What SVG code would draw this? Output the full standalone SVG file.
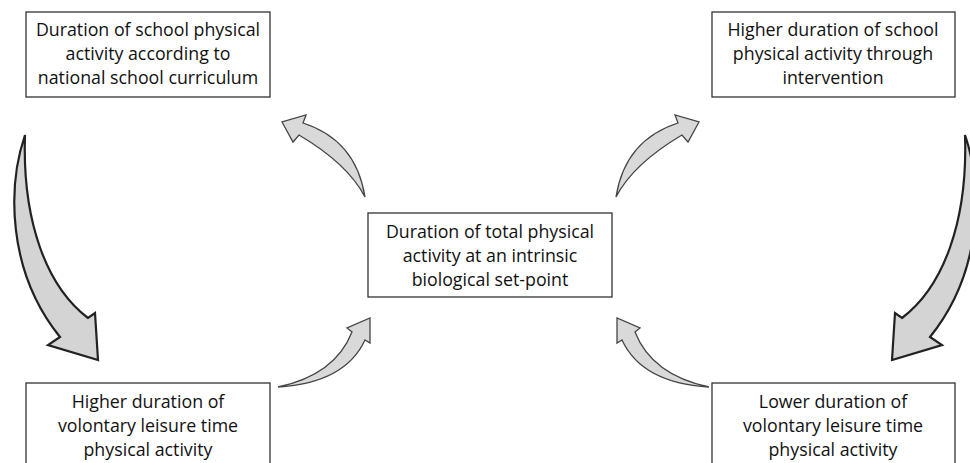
<svg xmlns="http://www.w3.org/2000/svg" width="970" height="463" viewBox="0 0 970 463">
<style>
.box{fill:#fff;stroke:#333;stroke-width:1.3}
.t{font-family:"Open Sans","Liberation Sans",sans-serif;font-size:17.8px;fill:#111;text-anchor:middle}
.big{fill:#d4d4d4;stroke:#222;stroke-width:2.2;stroke-linejoin:miter}
.small{fill:#d9d9d9;stroke:#444;stroke-width:1.3;stroke-linejoin:miter}
</style>
<defs>
<path id="bigArrow" d="M25,135 C8,185 6,270 60,337 L48,345 L98,360 L95,313 L88,318 C47,287 22,222 25,135 Z"/>
<path id="smallTop" d="M365,197 Q356,140 303,123 L306,115 L282,122 L293,142 L299,135 Q348,164 365,197 Z"/>
<path id="smallBottom" d="M278,387 Q335,375 352,332 L347,328 L370,318 L370,343 L365,340 Q345,383 278,387 Z"/>
</defs>
<rect width="970" height="463" fill="#fff"/>
<g id="connectors">
<use href="#bigArrow" class="big"/>
<use href="#bigArrow" class="big" transform="matrix(-1 0 0 1 990 0)"/>
<use href="#smallTop" class="small"/>
<use href="#smallTop" class="small" transform="matrix(-1 0 0 1 981 0)"/>
<use href="#smallBottom" class="small"/>
<use href="#smallBottom" class="small" transform="matrix(-1 0 0 1 987 0)"/>
</g>
<g id="node-school-curriculum">
<rect class="box" x="26" y="12" width="244" height="85"/>
<text class="t" x="148" y="36">Duration of school physical</text>
<text class="t" x="148" y="60">activity according to</text>
<text class="t" x="148" y="84">national school curriculum</text>
</g>
<g id="node-intervention">
<rect class="box" x="712" y="12" width="243" height="85"/>
<text class="t" x="833" y="36">Higher duration of school</text>
<text class="t" x="833" y="60">physical activity through</text>
<text class="t" x="833" y="84">intervention</text>
</g>
<g id="node-set-point">
<rect class="box" x="368" y="213" width="244" height="84"/>
<text class="t" x="490" y="238">Duration of total physical</text>
<text class="t" x="490" y="262">activity at an intrinsic</text>
<text class="t" x="490" y="286">biological set-point</text>
</g>
<g id="node-higher-leisure">
<rect class="box" x="26" y="383" width="244" height="95"/>
<text class="t" x="148" y="408">Higher duration of</text>
<text class="t" x="148" y="432">volontary leisure time</text>
<text class="t" x="148" y="456">physical activity</text>
</g>
<g id="node-lower-leisure">
<rect class="box" x="712" y="383" width="243" height="95"/>
<text class="t" x="833" y="408">Lower duration of</text>
<text class="t" x="833" y="432">volontary leisure time</text>
<text class="t" x="833" y="456">physical activity</text>
</g>
</svg>
